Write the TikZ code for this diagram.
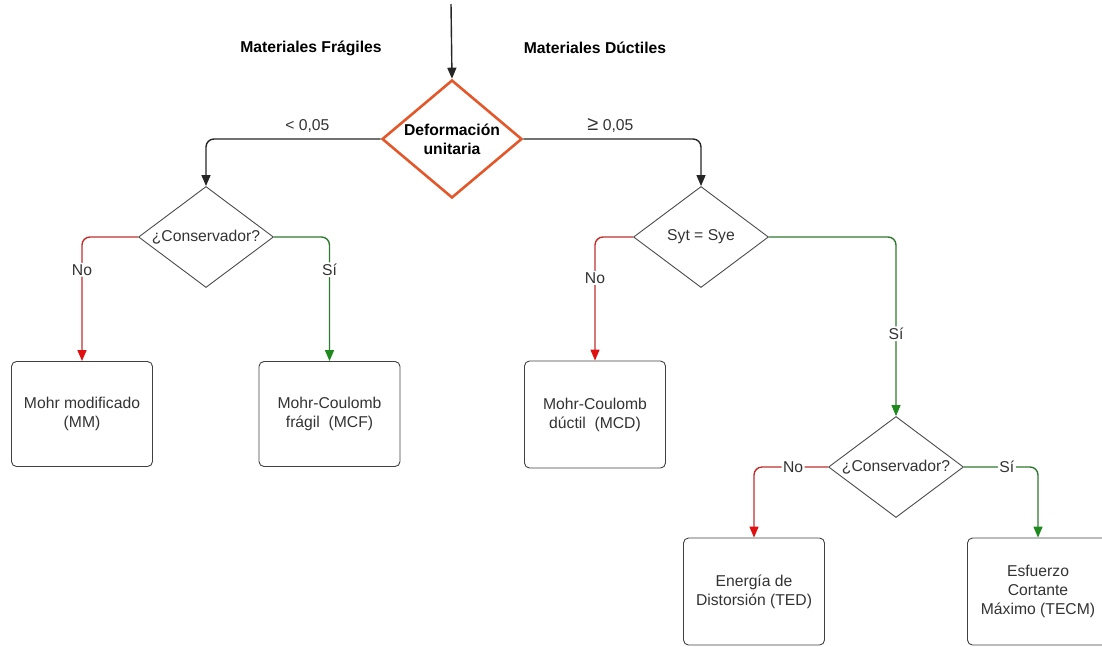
\documentclass[tikz,border=0pt]{standalone}
\usepackage{fontspec}
\setmainfont{Liberation Sans}
\usetikzlibrary{arrows.meta,shapes.geometric}
\definecolor{naranja}{HTML}{E4572A}
\definecolor{rojo}{HTML}{C0302E}
\definecolor{rojoflecha}{HTML}{E01010}
\definecolor{verde}{HTML}{2F7A2F}
\definecolor{verdeflecha}{HTML}{1E8A1E}
\definecolor{texto}{HTML}{333333}
\newcommand{\fs}{\fontsize{15.7}{19}\selectfont}
\tikzset{>={Triangle[length=11pt,width=9pt]},every node/.style={font=\fs,text=texto},
 decision/.style={diamond,draw=black!70,line width=.9pt,aspect=1.34,inner sep=0pt,minimum width=135pt,minimum height=101pt,align=center},
 criterio/.style={draw=black!75,line width=.9pt,rounded corners=5pt,minimum width=141pt,minimum height=105pt,align=center},
 flow/.style={line width=1.4pt,->,rounded corners=8pt,black!85},
 nolink/.style={flow,rojo,-{Triangle[length=11pt,width=9pt,rojoflecha]}},
 silink/.style={flow,verde,-{Triangle[length=11pt,width=9pt,verdeflecha]}},
 tag/.style={fill=white,inner sep=1.5pt}}

\begin{document}
\begin{tikzpicture}[x=1pt,y=-1pt]
\path[use as bounding box,clip] (0,0) rectangle (1102,646);
% decisiones
\node[decision,draw=naranja,line width=2.6pt,aspect=1.19,minimum width=140pt,minimum height=118pt,font=\fs\bfseries,text=black] (dfm) at (452,139) {Deformación\\unitaria};
\node[decision] (consF) at (206,237) {¿Conservador?};
\node[decision] (syt) at (701,237) {Syt = Sye};
\node[decision] (consD) at (896,467) {¿Conservador?};
% criterios
\node[criterio] (mm) at (82,414) {Mohr modificado\\(MM)};
\node[criterio] (mcf) at (329.5,414) {Mohr-Coulomb\\frágil\ \ (MCF)};
\node[criterio,minimum height=107pt] (mcd) at (595,414.5) {Mohr-Coulomb\\dúctil\ \ (MCD)};
\node[criterio,minimum height=107pt] (ted) at (754,591.5) {Energía de\\Distorsión (TED)};
\node[criterio,minimum height=107pt] (tecm) at (1038,591.5) {Esfuerzo\\Cortante\\Máximo (TECM)};
% titulos
\node[font=\fs\bfseries,text=black] (fragil) at (311,48) {Materiales Frágiles};
\node[font=\fs\bfseries,text=black] (ductil) at (595,48) {Materiales Dúctiles};
% conexiones
\coordinate (entrada) at (451,4);
\draw[flow] (entrada) -- (dfm.north);
\draw[flow] (dfm.west) -| node[pos=.21,above=2pt]{< 0,05} (consF.north);
\draw[flow] (dfm.east) -| node[pos=.245,above=2pt]{{\fontsize{20}{20}\selectfont ≥} 0,05} (syt.north);
\draw[nolink] (consF.west) -| node[tag,pos=.632]{No} (mm.north);
\draw[silink] (consF.east) -| node[tag,pos=.632]{Sí} (mcf.north);
\draw[nolink] (syt.west) -| node[tag,pos=.665]{No} (mcd.north);
\draw[silink] (syt.east) -| node[tag,pos=.77]{Sí} (consD.north);
\draw[nolink] (consD.west) -| node[tag,pos=.236]{No} (ted.north);
\draw[silink] (consD.east) -| node[tag,pos=.29]{Sí} (tecm.north);
\end{tikzpicture}
\end{document}
